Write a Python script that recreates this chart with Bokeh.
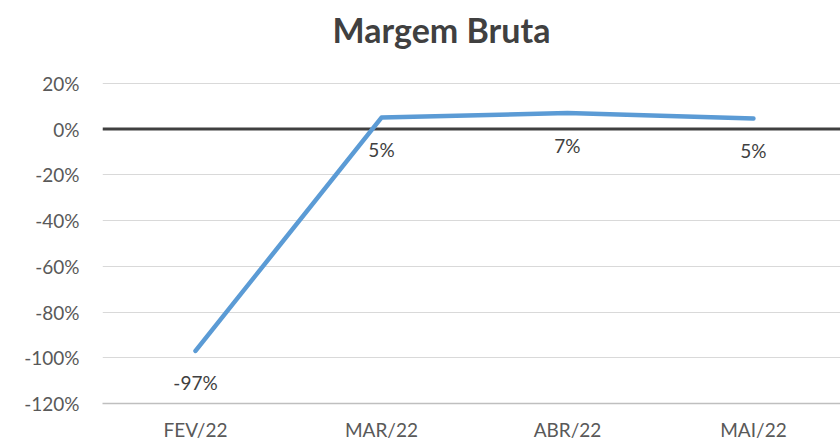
from bokeh.plotting import figure
from bokeh.models import FixedTicker, NumeralTickFormatter, Span, ColumnDataSource, Label
from bokeh.embed import file_html
from bokeh.resources import INLINE
from bokeh.core.properties import value

months = ["FEV/22", "MAR/22", "ABR/22", "MAI/22"]
margem = [-0.97, 0.05, 0.07, 0.046]
y_ticks = [-1.2, -1.0, -0.8, -0.6, -0.4, -0.2, 0.0, 0.2]
title_text = "Margem Bruta"

xs = list(range(len(months)))
labels = [f"{round(v * 100):.0f}%" for v in margem]
src = ColumnDataSource(dict(x=xs, y=margem, lab=labels))

FONT = "Lato"

# the frame reaches the top of the canvas so the title can sit inside it,
# above the highest gridline (20%)
p = figure(width=840, height=443, output_backend="svg", toolbar_location=None,
           x_range=(-0.5, 3.468), y_range=(-1.2, 0.562),
           min_border_left=102, min_border_right=0, min_border_top=0, min_border_bottom=39)
p.outline_line_color = None
p.background_fill_color = "white"
p.border_fill_color = "white"

title = Label(x=1.3226, y=0.436, text=title_text,
              text_align="center", text_baseline="alphabetic", text_font=FONT,
              text_font_size="34px", text_font_style="bold", text_color="#404040")
p.add_layout(title)

# y axis
p.yaxis.ticker = FixedTicker(ticks=y_ticks)
p.yaxis.formatter = NumeralTickFormatter(format="0%")
p.yaxis.axis_line_color = None
p.yaxis.major_tick_line_color = None
p.yaxis.major_tick_out = 0
p.yaxis.major_tick_in = 0
p.yaxis.minor_tick_line_color = None
p.yaxis.major_label_text_font = FONT
p.yaxis.major_label_text_font_size = "19px"
p.yaxis.major_label_text_color = "#595959"
p.yaxis.major_label_standoff = 23

# x axis
p.xaxis.ticker = FixedTicker(ticks=xs)
p.xaxis.major_label_overrides = {i: m for i, m in zip(xs, months)}
p.xaxis.axis_line_color = "#BFBFBF"
p.xaxis.axis_line_width = 1.5
p.xaxis.major_tick_line_color = None
p.xaxis.major_tick_out = 0
p.xaxis.major_tick_in = 0
p.xaxis.minor_tick_line_color = None
p.xaxis.major_label_text_font = FONT
p.xaxis.major_label_text_font_size = "19px"
p.xaxis.major_label_text_line_height = 1.0
p.xaxis.major_label_text_color = "#595959"
p.xaxis.major_label_standoff = 14

p.xgrid.grid_line_color = None
p.ygrid.ticker = FixedTicker(ticks=y_ticks)
p.ygrid.grid_line_color = "#D9D9D9"
p.ygrid.grid_line_width = 1

zero = Span(location=0, dimension="width", line_color="#404040", line_width=3, level="underlay")
p.add_layout(zero)

p.line("x", "y", source=src, line_width=4.5, line_color="#5B9BD5",
       line_join="round", line_cap="round")

p.text("x", "y", text="lab", source=src, text_align="center", text_baseline="middle",
       y_offset=32, text_font=value(FONT), text_font_size="19px", text_color="#404040")

open("out.html", "w").write(file_html(p, INLINE))
